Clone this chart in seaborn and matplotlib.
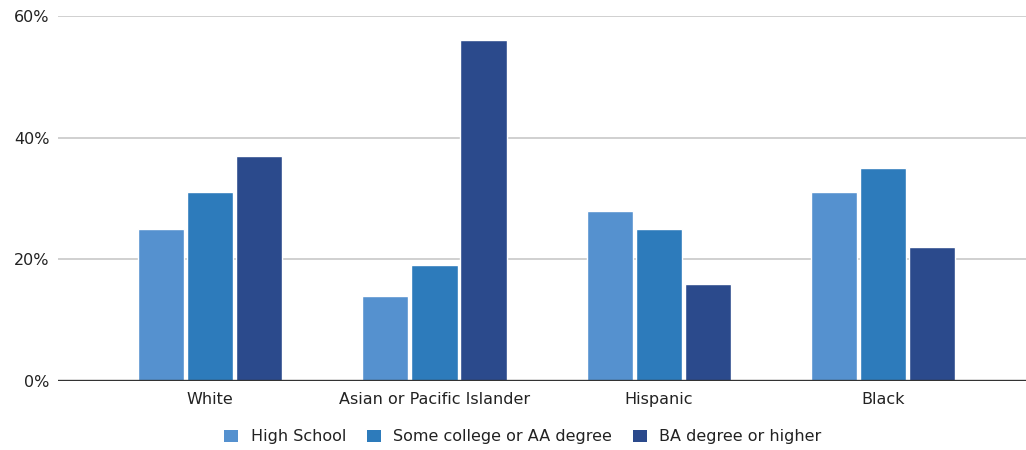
import matplotlib
matplotlib.use("Agg")
import matplotlib.pyplot as plt
import seaborn as sns
import pandas as pd
from matplotlib.ticker import FuncFormatter
from matplotlib.patches import Patch

groups = ["White", "Asian or Pacific Islander", "Hispanic", "Black"]
levels = ["High School", "Some college or AA degree", "BA degree or higher"]
high_school = [25, 14, 28, 31]
some_college = [31, 19, 25, 35]
ba_or_higher = [37, 56, 16, 22]
y_ticks = [0, 20, 40, 60]

colors = ["#5591CF", "#2D7BBB", "#2B4A8C"]

rows = []
for series, vals in zip(levels, [high_school, some_college, ba_or_higher]):
    for g, v in zip(groups, vals):
        rows.append({"group": g, "level": series, "value": v})
df = pd.DataFrame(rows)

sns.set_theme(style="white")
plt.rcParams["font.family"] = ["DejaVu Sans"]

fig = plt.figure(figsize=(10.26, 4.5), dpi=100)
ax = fig.add_axes([58 / 1026, 1 - 381 / 450, 1 - 58 / 1026, (381 - 16) / 450])

sns.barplot(data=df, x="group", y="value", hue="level", order=groups,
            hue_order=levels, palette=colors, width=0.655, gap=0.06,
            saturation=1, ax=ax, legend=False, zorder=3)

ax.set_ylim(0, 60)
ax.set_xlim(-0.677, 3.635)
ax.set_yticks(y_ticks)
ax.yaxis.set_major_formatter(FuncFormatter(lambda v, p: f"{int(v)}%"))
ax.grid(axis="y", color="#c8c8c8", linewidth=1.2, zorder=0)
ax.axhline(0, color="#333333", linewidth=1.7, zorder=4)
for s in ax.spines.values():
    s.set_visible(False)
ax.tick_params(axis="both", length=0, labelsize=11.5, labelcolor="#222222")
ax.tick_params(axis="y", pad=6)
ax.tick_params(axis="x", pad=8)
ax.set_xlabel("")
ax.set_ylabel("")

handles = [Patch(facecolor=c, edgecolor="none") for c in colors]
fig.legend(handles, levels, loc="center", bbox_to_anchor=(523 / 1026, 1 - 437 / 450),
           ncol=3, frameon=False, fontsize=11.5, handlelength=0.85, handleheight=0.85,
           handletextpad=0.8, columnspacing=1.3, labelcolor="#222222")

fig.savefig("out.png", dpi=100)
